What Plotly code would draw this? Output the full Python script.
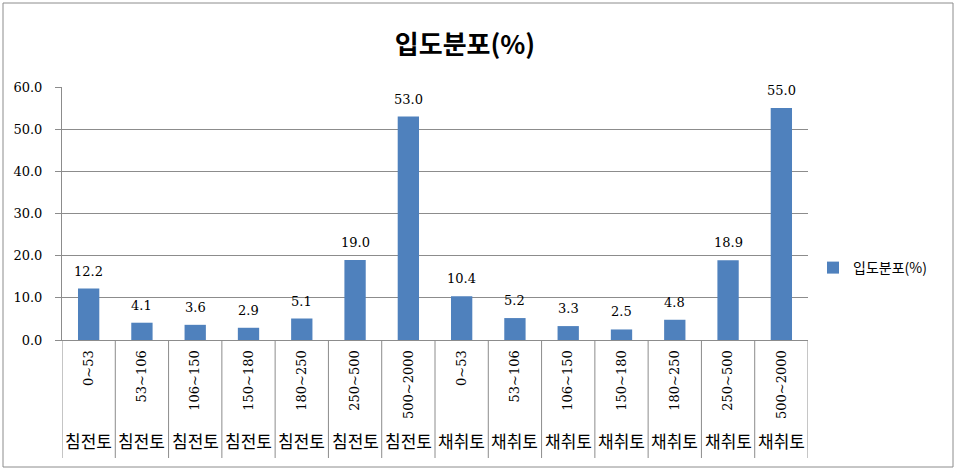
import plotly.graph_objects as go

ranges = ["0~53", "53~106", "106~150", "150~180", "180~250", "250~500", "500~2000",
          "0~53", "53~106", "106~150", "150~180", "180~250", "250~500", "500~2000"]
groups = ["침전토"] * 7 + ["채취토"] * 7
values = [12.2, 4.1, 3.6, 2.9, 5.1, 19.0, 53.0, 10.4, 5.2, 3.3, 2.5, 4.8, 18.9, 55.0]
series_name = "입도분포(%)"
title_text = "입도분포(%)"
y_ticks = [0, 10, 20, 30, 40, 50, 60]

W, H = 956, 471
L, R, T, B = 62, 148, 87, 131
pw, ph = W - L - R, H - T - B

def px_x(px):
    return (px - L) / pw

def px_y(py):
    return (H - B - py) / ph

xs = list(range(len(values)))
num_font = "DejaVu Serif, Liberation Serif, serif"
kr_font = "Noto Sans CJK KR, sans-serif"
grid_col = "#8c8c8c"

fig = go.Figure()
fig.add_trace(go.Bar(
    x=xs, y=values, width=0.4, name=series_name,
    marker=dict(color="#4F81BD", line=dict(width=0)),
    showlegend=True,
))

shapes = []
# category separators below the axis
for i in range(len(values) + 1):
    shapes.append(dict(type="line", xref="x", yref="paper",
                       x0=i - 0.5, x1=i - 0.5, y0=0, y1=px_y(458),
                       line=dict(color=grid_col, width=1)))
# outer chart border
shapes.append(dict(type="rect", xref="paper", yref="paper",
                   x0=px_x(3), x1=px_x(953), y0=px_y(467), y1=px_y(3),
                   line=dict(color="#8c8c8c", width=1), fillcolor="rgba(0,0,0,0)", layer="below"))

annotations = []
for i, v in enumerate(values):
    annotations.append(dict(x=i, y=v, xref="x", yref="y", text=f"{v:.1f}",
                            showarrow=False, font=dict(family=num_font, size=13, color="#000"),
                            xanchor="center", yanchor="bottom", yshift=8))
for i, g in enumerate(groups):
    annotations.append(dict(x=i, y=px_y(440), xref="x", yref="paper", text=g,
                            showarrow=False, font=dict(family=kr_font, size=17, color="#000"),
                            xanchor="center", yanchor="middle"))

fig.update_layout(
    width=W, height=H,
    margin=dict(l=L, r=R, t=T, b=B, pad=0),
    paper_bgcolor="white", plot_bgcolor="white",
    title=dict(text=f"<b>{title_text}</b>", x=465 / W, xanchor="center",
               y=1 - 45 / H, yanchor="middle",
               font=dict(family=kr_font, size=26, color="#000")),
    xaxis=dict(range=[-0.5, len(values) - 0.5], tickmode="array", tickvals=xs,
               ticktext=ranges, tickangle=-90, showgrid=False, zeroline=False,
               showline=True, linecolor=grid_col, linewidth=1, ticks="",
               ticklabelstandoff=4,
               tickfont=dict(family=num_font, size=13, color="#000")),
    yaxis=dict(range=[0, 60], tickmode="array", tickvals=y_ticks,
               ticktext=[f"{v:.1f}" for v in y_ticks],
               showgrid=True, gridcolor=grid_col, gridwidth=1, zeroline=False,
               showline=True, linecolor=grid_col, linewidth=1,
               ticks="outside", ticklen=6, tickcolor=grid_col,
               ticklabelstandoff=10,
               tickfont=dict(family=num_font, size=13, color="#000")),
    legend=dict(x=px_x(813), y=px_y(268), xanchor="left", yanchor="middle",
                font=dict(family=kr_font, size=14, color="#000"),
                bgcolor="rgba(0,0,0,0)", itemwidth=30),
    showlegend=True,
    shapes=shapes, annotations=annotations,
    bargap=0.6,
)

fig.write_html("out.html")
